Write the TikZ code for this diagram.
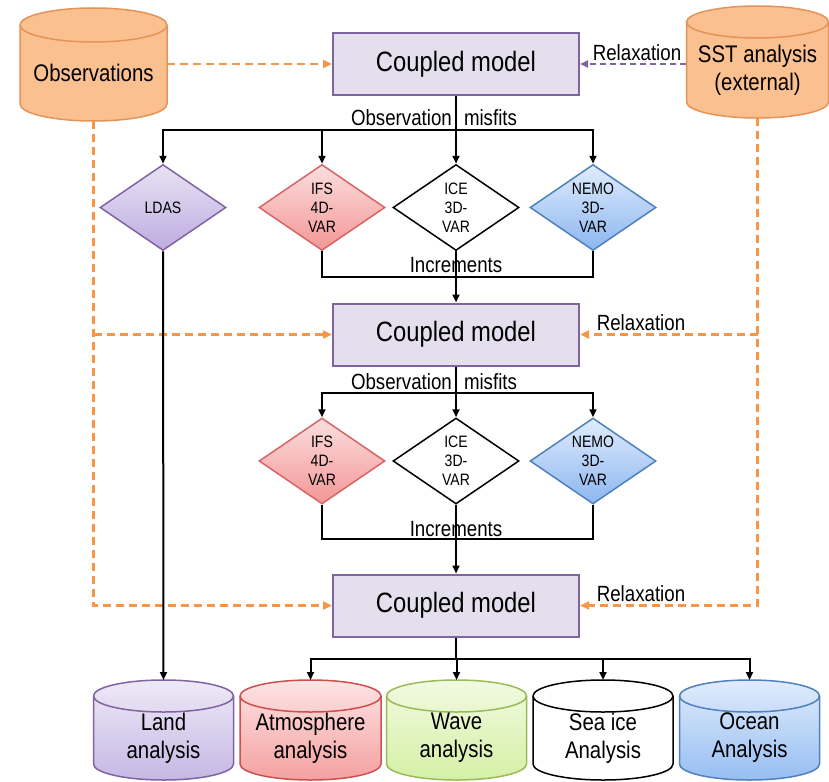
\documentclass[tikz,border=0pt]{standalone}
\usepackage{fontspec}
\setmainfont{Liberation Sans}[FakeStretch=0.85]
\usetikzlibrary{shapes.geometric,arrows.meta,calc}

\definecolor{obsfill}{RGB}{250,192,143}
\definecolor{obsdraw}{RGB}{228,148,88}
\definecolor{cmfill}{RGB}{228,223,236}
\definecolor{purpled}{RGB}{128,100,162}
\definecolor{dashorange}{RGB}{247,150,70}
\definecolor{ldast}{RGB}{232,226,244}
\definecolor{ldasb}{RGB}{190,172,224}
\definecolor{ifst}{RGB}{251,222,222}
\definecolor{ifsb}{RGB}{244,150,150}
\definecolor{redd}{RGB}{217,100,100}
\definecolor{nemot}{RGB}{224,236,252}
\definecolor{nemob}{RGB}{140,182,240}
\definecolor{blued}{RGB}{79,129,189}
\definecolor{landt}{RGB}{238,233,247}
\definecolor{landb}{RGB}{198,184,228}
\definecolor{atmt}{RGB}{253,228,228}
\definecolor{atmb}{RGB}{245,160,160}
\definecolor{atmd}{RGB}{205,80,80}
\definecolor{wavet}{RGB}{242,250,225}
\definecolor{waveb}{RGB}{212,240,165}
\definecolor{waved}{RGB}{155,187,89}
\definecolor{oceant}{RGB}{225,236,252}
\definecolor{oceanb}{RGB}{150,190,242}

% #1 name, #2 cx, #3 ytop, #4 ybot, #5 rx, #6 ry, #7 fill style, #8 draw colour, #9 text
\newcommand{\mycyl}[9]{%
  \path[#7, draw=#8, line width=1.5]
    ({#2-#5},{-(#3+#6)}) -- ({#2-#5},{-(#4-#6)})
    arc[start angle=180,end angle=360,x radius=#5,y radius=#6]
    -- ({#2+#5},{-(#3+#6)})
    arc[start angle=0,end angle=180,x radius=#5,y radius=#6] -- cycle;
  \draw[#8, line width=1.5] ({#2-#5},{-(#3+#6)})
    arc[start angle=180,end angle=360,x radius=#5,y radius=#6];
  \node[cyltext, minimum width={2*#5}, minimum height={#4-#3-3*#6}] (#1)
    at ({#2},{-(#3+#4+#6)/2}) {#9};
  \coordinate (#1-top) at ({#2},{-#3});
  \coordinate (#1-bot) at ({#2},{-#4});
}

\begin{document}
\begin{tikzpicture}[x=1pt,y=1pt,
  model/.style={draw=purpled, fill=cmfill, line width=2, minimum width=246,
    minimum height=62, inner sep=0, font=\fontsize{28}{32}\selectfont},
  dia/.style={diamond, line width=1.5, minimum width=126, minimum height=86,
    aspect=1.465, inner sep=0, align=center, font=\fontsize{16.5}{19}\selectfont},
  lbl/.style={inner sep=0, font=\fontsize{22}{26}\selectfont},
  cyltext/.style={inner sep=0, align=center, font=\fontsize{24}{28}\selectfont},
  conn/.style={line width=2, -{Triangle[length=8,width=7]}},
  plain/.style={line width=2},
  odash/.style={draw=dashorange, line width=2.5, dash pattern=on 8 off 5},
  oarr/.style={odash, -{Triangle[length=9,width=8]}},
  parr/.style={draw=purpled, line width=2, dash pattern=on 6 off 4,
    -{Triangle[length=8,width=7]}}]

\useasboundingbox (0,0) rectangle (829,-781);

% source cylinders
\mycyl{obs}{93.5}{8}{121}{73.5}{17}{fill=obsfill}{obsdraw}{Observations}
\mycyl{sst}{757.5}{6}{118}{71}{16}{fill=obsfill}{obsdraw}{SST analysis\\(external)}

% coupled models
\node[model] (c1) at (456,-64) {Coupled model};
\node[model] (c2) at (456,-334.5) {Coupled model};
\node[model] (c3) at (456,-605.5) {Coupled model};

% first row of diamonds
\node[dia, top color=ldast, bottom color=ldasb, draw=purpled] (ldas) at (163,-207.5) {LDAS};
\node[dia, top color=ifst, bottom color=ifsb, draw=redd] (ifs1) at (322,-207.5) {IFS\\4D-\\VAR};
\node[dia, fill=white, draw=black] (ice1) at (456,-207.5) {ICE\\3D-\\VAR};
\node[dia, top color=nemot, bottom color=nemob, draw=blued] (nemo1) at (593,-207.5) {NEMO\\3D-\\VAR};

% second row of diamonds
\node[dia, top color=ifst, bottom color=ifsb, draw=redd] (ifs2) at (322,-461) {IFS\\4D-\\VAR};
\node[dia, fill=white, draw=black] (ice2) at (456,-461) {ICE\\3D-\\VAR};
\node[dia, top color=nemot, bottom color=nemob, draw=blued] (nemo2) at (593,-461) {NEMO\\3D-\\VAR};

% output cylinders
\mycyl{land}{163.5}{680}{780}{70}{16}{top color=landt, bottom color=landb}{purpled}{Land\\analysis}
\mycyl{atm}{310.5}{680}{780}{70.5}{16}{top color=atmt, bottom color=atmb}{atmd}{Atmosphere\\analysis}
\mycyl{wave}{456.5}{680}{780}{70}{16}{top color=wavet, bottom color=waveb}{waved}{Wave\\analysis}
\mycyl{seaice}{603}{680}{780}{70}{16}{fill=white}{black}{Sea ice\\Analysis}
\mycyl{ocean}{749.5}{680}{780}{70}{16}{top color=oceant, bottom color=oceanb}{blued}{Ocean\\Analysis}

% labels
\node[lbl] (om1) at (434,-118) {Observation\hspace{7pt} misfits};
\node[lbl] (om2) at (434,-382) {Observation\hspace{7pt} misfits};
\node[lbl] (in1) at (456,-265) {Increments};
\node[lbl] (in2) at (456,-529) {Increments};
\node[lbl] (rl1) at (637,-53) {Relaxation};
\node[lbl] (rl2) at (641,-323) {Relaxation};
\node[lbl] (rl3) at (641,-594) {Relaxation};

% branch coordinates
\coordinate (m1) at (456,-130);
\coordinate (i1) at (456,-277);
\coordinate (m2) at (456,-393);
\coordinate (i2) at (456,-539);
\coordinate (m3) at (456,-659);

% dashed connectors
\draw[oarr] (obs.east |- c1.west) -- (c1.west);
\draw[oarr] (obs-bot) |- (c3.west);
\draw[oarr] (obs-bot |- c2.west) -- (c2.west);
\draw[oarr] (sst-bot) |- (c3.east);
\draw[oarr] (sst-bot |- c2.east) -- (c2.east);
\draw[parr] (sst.west |- c1.east) -- (c1.east);

% first assimilation cycle
\draw[plain] (c1.south) -- (m1);
\draw[conn] (m1) -| (ldas.north);
\draw[conn] (m1) -| (ifs1.north);
\draw[conn] (m1) -- (ice1.north);
\draw[conn] (m1) -| (nemo1.north);
\draw[plain] (ifs1.south) |- (i1) -| (nemo1.south);
\draw[conn] (ice1.south) -- (c2.north);
\draw[conn] (ldas.south) -- (land-top);

% second assimilation cycle
\draw[plain] (c2.south) -- (m2);
\draw[conn] (m2) -| (ifs2.north);
\draw[conn] (m2) -- (ice2.north);
\draw[conn] (m2) -| (nemo2.north);
\draw[plain] (ifs2.south) |- (i2) -| (nemo2.south);
\draw[conn] (ice2.south) -- (c3.north);

% outputs
\draw[plain] (c3.south) -- (m3);
\draw[conn] (m3) -| (atm-top);
\draw[conn] (m3) -| (wave-top);
\draw[conn] (m3) -| (seaice-top);
\draw[conn] (m3) -| (ocean-top);
\end{tikzpicture}
\end{document}
